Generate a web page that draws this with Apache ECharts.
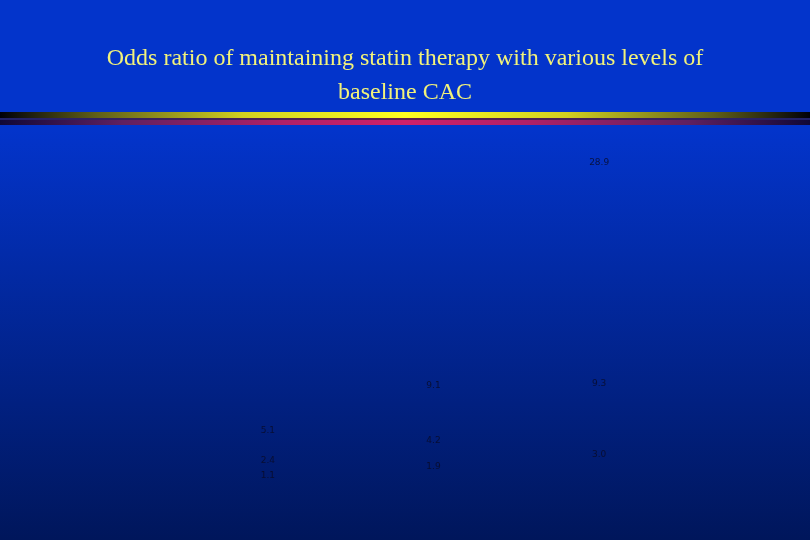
<!DOCTYPE html>
<html>
<head>
<meta charset="utf-8">
<script src="https://cdn.jsdelivr.net/npm/echarts@6/dist/echarts.min.js"></script>
<style>
html,body{margin:0;padding:0;width:810px;height:540px;overflow:hidden;background:#0334cb;}
#chart{width:810px;height:540px;}
</style>
</head>
<body>
<div id="chart"></div>
<script>
// Data
const categories = ['CAC group 1', 'CAC group 2', 'CAC group 3'];
const upperCI = [5.1, 9.1, 28.9];
const oddsRatio = [2.4, 4.2, 9.3];
const lowerCI = [1.1, 1.9, 3.0];

const titleLines = ['Odds ratio of maintaining statin therapy with various levels of', 'baseline CAC'];

const chart = echarts.init(document.getElementById('chart'), null, {renderer: 'canvas'});

function labelSeries(name, values) {
  return {
    name: name,
    type: 'scatter',
    symbolSize: 1,
    itemStyle: {color: 'transparent'},
    data: values,
    label: {
      show: true,
      position: 'inside',
      formatter: p => p.value.toFixed(1),
      color: '#0a0a22',
      fontFamily: 'DejaVu Sans',
      fontSize: 9
    },
    silent: true
  };
}

const option = {
  backgroundColor: {
    type: 'linear', x: 0, y: 0, x2: 0, y2: 1,
    colorStops: [
      {offset: 0, color: '#0334cb'},
      {offset: 0.24, color: '#0334cb'},
      {offset: 1, color: '#00165b'}
    ]
  },
  animation: false,
  title: {
    text: titleLines.join('\n'),
    left: 'center',
    top: 37,
    textStyle: {
      color: '#f2f27a',
      fontFamily: 'Liberation Serif',
      fontWeight: 'normal',
      fontSize: 24,
      lineHeight: 34
    }
  },
  graphic: [
    {
      type: 'rect', left: 0, top: 112, silent: true,
      shape: {width: 810, height: 6},
      style: {fill: {type: 'linear', x: 0, y: 0, x2: 1, y2: 0, colorStops: [
        {offset: 0, color: '#000008'},
        {offset: 0.12, color: '#606018'},
        {offset: 0.3, color: '#d0d020'},
        {offset: 0.5, color: '#ffff20'},
        {offset: 0.7, color: '#d0d020'},
        {offset: 0.88, color: '#606018'},
        {offset: 1, color: '#000008'}
      ]}}
    },
    {
      type: 'rect', left: 0, top: 118, silent: true,
      shape: {width: 810, height: 2},
      style: {fill: {type: 'linear', x: 0, y: 0, x2: 1, y2: 0, colorStops: [
        {offset: 0, color: '#20206a'},
        {offset: 0.5, color: '#602048'},
        {offset: 1, color: '#20206a'}
      ]}}
    },
    {
      type: 'rect', left: 0, top: 120, silent: true,
      shape: {width: 810, height: 5},
      style: {fill: {type: 'linear', x: 0, y: 0, x2: 1, y2: 0, colorStops: [
        {offset: 0, color: '#100838'},
        {offset: 0.15, color: '#602060'},
        {offset: 0.35, color: '#b02068'},
        {offset: 0.5, color: '#d0206a'},
        {offset: 0.65, color: '#b02068'},
        {offset: 0.85, color: '#602060'},
        {offset: 1, color: '#100838'}
      ]}}
    }
  ],
  grid: {left: 185, right: 128, top: 150, bottom: 52},
  xAxis: {
    type: 'category',
    data: categories,
    show: false
  },
  yAxis: {
    type: 'value',
    min: 0,
    max: 30,
    show: false
  },
  series: [
    labelSeries('Upper 95% CI', upperCI),
    labelSeries('Odds ratio', oddsRatio),
    labelSeries('Lower 95% CI', lowerCI)
  ]
};

chart.setOption(option);
</script>
</body>
</html>
